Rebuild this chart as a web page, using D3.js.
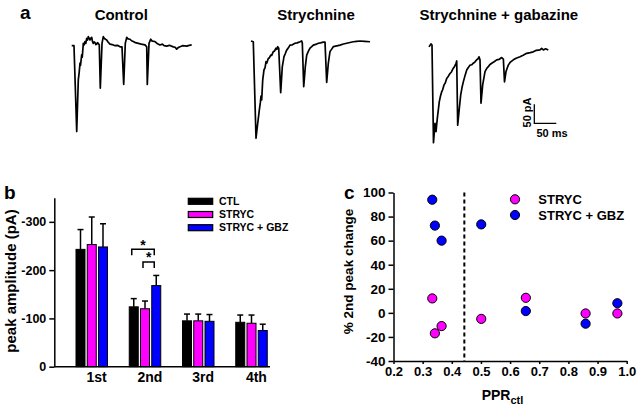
<!DOCTYPE html>
<html><head><meta charset="utf-8">
<script src="https://cdn.jsdelivr.net/npm/d3@7"></script>
<style>
body{margin:0;background:#fff}
svg{display:block;font-family:"Liberation Sans",Arial,sans-serif;font-weight:bold}
svg text{font-weight:bold}
</style>
</head><body>
<svg id="chart" width="638" height="409"></svg>
<script>
// ---------- DATA ----------
// panel a: example traces, [time (ms), current (pA)]
const traceTitles = ["Control", "Strychnine", "Strychnine + gabazine"];
const traceControl = [[0,0],[5.2,0],[11.4,-226],[15,-90],[17,-70],[18.9,-46],[20,-52],[22.7,-24],[24,-30],[26.4,6],[28,2],[30.2,11],[32,6],[34.1,19],[36,15],[37.7,24],[39.5,20],[41.6,15],[43.5,20],[45.5,22],[47,12],[49.1,6],[51,10],[53,8],[55,3],[56.8,4],[58.5,8],[60.5,6],[62.7,2],[65,-112],[68.9,6],[71.8,24],[75,18],[79.5,15],[83,9],[87,4],[92,3],[98.4,0],[104,1],[109.8,-3],[114.3,-3],[118.2,-102],[121.8,6],[125,22],[128,18],[132.5,17],[136,13],[140,11],[145,8],[151.4,6],[158,4],[166.6,2],[170.5,-3],[171.8,-102],[175.7,6],[179.5,17],[183,12],[189.3,11],[194,6],[200.7,2],[206,4],[210,0],[215.9,-1],[222,1],[230.9,-3],[235,-4],[238.6,-9],[242,-5],[246.1,-3],[252,0],[261.4,-1],[267,1],[272.7,2]];
const traceStrychnine = [[0,0],[5.2,-2],[11.4,-256],[14.3,-226],[18.9,-182],[21.1,-163],[22.7,-145],[24.3,-155],[26.6,-103],[29.5,-76],[32,-70],[34.1,-54],[36,-58],[39.3,-46],[42,-44],[44.8,-37],[47,-38],[50.7,-28],[53,-27],[56.8,-19],[58.5,-22],[60.7,-15],[63,-19],[67.5,-136],[71.1,-68],[75,-41],[78,-33],[81.1,-24],[85,-18],[88.6,-11],[94,-10],[100,-6],[105,-5],[111.4,-2],[115.2,0],[116.6,-5],[119.8,-120],[123.4,-68],[126.6,-37],[130,-28],[134.1,-19],[138,-15],[141.6,-11],[147,-9],[153,-6],[158,-5],[164.3,-3],[168.2,-3],[172,-109],[175.7,-59],[179.5,-28],[183,-22],[187,-15],[195,-13],[202.3,-11],[210,-8],[217.5,-6],[225,-4],[232.5,-2],[240,-1],[247.7,0],[258,-1],[270.5,-2]];
const traceGabazine = [[0,-5],[4.5,3],[6.8,0],[10.2,-257],[13.6,-206],[15.9,-228],[18.9,-193],[23.4,-149],[26,-135],[28.9,-123],[31,-118],[34.1,-105],[37,-100],[40.2,-88],[44,-82],[47.7,-75],[51,-71],[55.2,-61],[58,-57],[61.4,-48],[63,-42],[65.2,-211],[68.9,-167],[72,-132],[75,-112],[78,-97],[82,-80],[85.7,-66],[89,-60],[93.2,-53],[97,-52],[100.7,-48],[104,-45],[108.4,-39],[111,-37],[113.6,-31],[115.9,-39],[118.2,-153],[122,-105],[125,-85],[127.3,-70],[131,-62],[134.8,-57],[138,-52],[142.5,-48],[148,-44],[153.9,-39],[159,-38],[165.2,-33],[169,-37],[171.6,-97],[175,-70],[178,-60],[180.2,-53],[185,-45],[191.6,-39],[198,-35],[206.8,-31],[214,-27],[222,-22],[230,-20],[237,-18],[244,-14],[252.3,-13],[256,-9],[260,-13],[265,-10],[271.1,-13]];
const scaleBarMs = 50;
const scaleBarPA = 50;

// panel b: peak amplitudes (pA), mean and SEM
const peaks = ["1st", "2nd", "3rd", "4th"];
const seriesNames = ["CTL", "STRYC", "STRYC + GBZ"];
const ctlMean = [-243, -124, -95, -92];
const ctlSem = [41, 17, 14, 15];
const strycMean = [-253, -120, -95, -90];
const strycSem = [57, 16, 14, 17];
const gbzMean = [-248, -168, -94, -75];
const gbzSem = [48, 21, 14, 13];
const bTicks = [0, -100, -200, -300];
const sigBrackets = [
  {peak: "2nd", from: "CTL", to: "STRYC + GBZ", level: -243},
  {peak: "2nd", from: "STRYC", to: "STRYC + GBZ", level: -217}
];

// panel c: % 2nd peak change vs PPR ctl
const pprCtl = [0.333, 0.342, 0.365, 0.501, 0.654, 0.859, 0.968];
const strycChange = [12, -17, -11, -5, 12.5, -0.5, -0.5];
const gbzChange = [94, 72.5, 60, 73.5, 1.5, -9, 8];
const pprThreshold = 0.443;
const cXTicks = [0.2, 0.3, 0.4, 0.5, 0.6, 0.7, 0.8, 0.9, 1.0];
const cYTicks = [-40, -20, 0, 20, 40, 60, 80, 100];

// ---------- STYLE ----------
const colors = {"CTL": "#000000", "STRYC": "#ff00ff", "STRYC + GBZ": "#0000ff"};

const svg = d3.select("#chart");

// ---------- PANEL A ----------
svg.append("text").attr("x", 20).attr("y", 18.5).attr("font-size", 19).text("a");
const traces = [traceControl, traceStrychnine, traceGabazine];
const traceOrigins = [[71.7, 45.7], [251, 41], [429, 45]];
const titleCenters = [121.3, 316, 498.8];
const pxPerMs = 22 / 50, pxPerPA = 19 / 50;
traces.forEach((tr, i) => {
  const [ox, oy] = traceOrigins[i];
  const x = d3.scaleLinear().domain([0, 50]).range([ox, ox + 50 * pxPerMs]);
  const y = d3.scaleLinear().domain([0, -50]).range([oy, oy + 50 * pxPerPA]);
  svg.append("path").datum(tr)
    .attr("d", d3.line().x(d => x(d[0])).y(d => y(d[1])))
    .attr("fill", "none").attr("stroke", "#000").attr("stroke-width", 1.7)
    .attr("stroke-linejoin", "round");
  svg.append("text").attr("x", titleCenters[i]).attr("y", 20.4)
    .attr("text-anchor", "middle").attr("font-size", 15).text(traceTitles[i]);
});
// scale bar
{
  const sx = d3.scaleLinear().domain([0, 50]).range([534.3, 534.3 + 50 * pxPerMs]);
  const sy = d3.scaleLinear().domain([0, 50]).range([123.3, 123.3 - 50 * pxPerPA]);
  svg.append("path")
    .attr("d", `M${sx(0)},${sy(scaleBarPA)}L${sx(0)},${sy(0)}L${sx(scaleBarMs)},${sy(0)}`)
    .attr("fill", "none").attr("stroke", "#000").attr("stroke-width", 1.3);
  svg.append("text").attr("transform", `translate(527,112.5) rotate(-90)`)
    .attr("text-anchor", "middle").attr("dy", "0.35em").attr("font-size", 11).text(scaleBarPA + " pA");
  svg.append("text").attr("x", 552).attr("y", 137.3)
    .attr("text-anchor", "middle").attr("font-size", 11).text(scaleBarMs + " ms");
}

function styleAxis(a, fs) {
  a.attr("font-family", null).attr("font-size", null);
  a.selectAll("path,line").attr("stroke", "#000").attr("stroke-width", 1.5);
  a.selectAll("text").attr("font-size", fs).attr("font-weight", "bold").attr("fill", "#000");
}

// ---------- PANEL B ----------
svg.append("text").attr("x", 4).attr("y", 199.3).attr("font-size", 19).text("b");
const yb = d3.scaleLinear().domain([0, -350]).range([366.7, 197.7]);
const xb = d3.scaleBand().domain(peaks).range([65, 278]);
const xInner = d3.scaleBand().domain(seriesNames).range([11, 42.5]).paddingInner(0.2);
const seriesData = [
  {name: "CTL", mean: ctlMean, sem: ctlSem},
  {name: "STRYC", mean: strycMean, sem: strycSem},
  {name: "STRYC + GBZ", mean: gbzMean, sem: gbzSem}
];
const barRows = [];
seriesData.forEach(s => peaks.forEach((p, i) => barRows.push({peak: p, name: s.name, mean: s.mean[i], sem: s.sem[i]})));
const bw = xInner.bandwidth();
const gB = svg.append("g");
barRows.forEach(d => {
  const cx = xb(d.peak) + xInner(d.name) + bw / 2;
  gB.append("line").attr("x1", cx).attr("x2", cx).attr("y1", yb(d.mean)).attr("y2", yb(d.mean - d.sem))
    .attr("stroke", "#000").attr("stroke-width", 1.5);
  gB.append("line").attr("x1", cx - 3).attr("x2", cx + 3).attr("y1", yb(d.mean - d.sem)).attr("y2", yb(d.mean - d.sem))
    .attr("stroke", "#000").attr("stroke-width", 1.5);
});
gB.selectAll("rect.bar").data(barRows).join("rect").attr("class", "bar")
  .attr("x", d => xb(d.peak) + xInner(d.name))
  .attr("y", d => yb(d.mean))
  .attr("width", bw)
  .attr("height", d => yb(0) - yb(d.mean))
  .attr("fill", d => colors[d.name])
  .attr("stroke", "#000").attr("stroke-width", 1);
const axB = svg.append("g").attr("transform", "translate(54.3,0)")
  .call(d3.axisLeft(yb).tickValues(bTicks).tickSize(5).tickSizeOuter(0).tickFormat(d => String(d)));
styleAxis(axB, 12.5);
svg.append("line").attr("x1", 54.3).attr("x2", 270).attr("y1", yb(0)).attr("y2", yb(0))
  .attr("stroke", "#000").attr("stroke-width", 1.5);
peaks.forEach(p => {
  svg.append("text").attr("x", xb(p) + xb.bandwidth() / 2 + 5).attr("y", 381.7)
    .attr("text-anchor", "middle").attr("font-size", 14).text(p);
});
svg.append("text").attr("transform", "translate(11,281) rotate(-90)")
  .attr("text-anchor", "middle").attr("dy", "0.35em").attr("font-size", 15).text("peak amplitude (pA)");
sigBrackets.forEach(b => {
  const x1 = xb(b.peak) + xInner(b.from) + bw / 2 - 2;
  const x2 = xb(b.peak) + xInner(b.to) + bw / 2 - 2;
  const yy = yb(b.level);
  svg.append("path").attr("d", `M${x1},${yy + 6}L${x1},${yy}L${x2},${yy}L${x2},${yy + 6}`)
    .attr("fill", "none").attr("stroke", "#000").attr("stroke-width", 1.5);
  svg.append("text").attr("x", (x1 + x2) / 2).attr("y", yy + 0.5)
    .attr("text-anchor", "middle").attr("font-size", 14).text("*");
});
seriesNames.forEach((n, i) => {
  const cy = 201.3 + i * 13.2;
  svg.append("rect").attr("x", 188.3).attr("y", cy - 3).attr("width", 24.4).attr("height", 6)
    .attr("fill", colors[n]).attr("stroke", "#000").attr("stroke-width", 1.2);
  svg.append("text").attr("x", 219).attr("y", cy).attr("dy", "0.36em").attr("font-size", 10.5).text(n);
});

// ---------- PANEL C ----------
svg.append("text").attr("x", 344).attr("y", 198.5).attr("font-size", 19).text("c");
const xc = d3.scaleLinear().domain([0.2, 1.0]).range([393.5, 626.7]);
const yc = d3.scaleLinear().domain([-40, 100]).range([361, 192.5]);
const axCy = svg.append("g").attr("transform", `translate(${xc(0.2)},0)`)
  .call(d3.axisLeft(yc).tickValues(cYTicks).tickSize(5).tickSizeOuter(0).tickFormat(d => String(d)));
const axCx = svg.append("g").attr("transform", `translate(0,${yc(-40)})`)
  .call(d3.axisBottom(xc).tickValues(cXTicks).tickSize(3).tickSizeOuter(0).tickFormat(d3.format(".1f")));
styleAxis(axCy, 13.5);
styleAxis(axCx, 13);
svg.append("line").attr("x1", xc(pprThreshold)).attr("x2", xc(pprThreshold))
  .attr("y1", yc(100)).attr("y2", yc(-40))
  .attr("stroke", "#000").attr("stroke-width", 2).attr("stroke-dasharray", "4,3");
const dotsStryc = pprCtl.map((p, i) => ({x: p, y: strycChange[i], name: "STRYC"}));
const dotsGbz = pprCtl.map((p, i) => ({x: p, y: gbzChange[i], name: "STRYC + GBZ"}));
svg.append("g").selectAll("circle").data(dotsGbz.concat(dotsStryc)).join("circle")
  .attr("cx", d => xc(d.x)).attr("cy", d => yc(d.y)).attr("r", 4.6)
  .attr("fill", d => colors[d.name]).attr("stroke", "#000").attr("stroke-width", 1);
svg.append("text").attr("transform", "translate(348.5,271.5) rotate(-90)")
  .attr("text-anchor", "middle").attr("dy", "0.35em").attr("font-size", 13.5).text("% 2nd peak change");
const xt = svg.append("text").attr("x", 481.7).attr("y", 400).attr("font-size", 14);
xt.append("tspan").text("PPR");
xt.append("tspan").attr("dy", 4).attr("font-size", 11).text("ctl");
["STRYC", "STRYC + GBZ"].forEach((n, i) => {
  const cy = 199.3 + i * 15.7;
  svg.append("circle").attr("cx", 515).attr("cy", cy).attr("r", 4.6)
    .attr("fill", colors[n]).attr("stroke", "#000").attr("stroke-width", 1);
  svg.append("text").attr("x", 538.3).attr("y", cy).attr("dy", "0.36em").attr("font-size", 13).text(n);
});
</script>
</body></html>
